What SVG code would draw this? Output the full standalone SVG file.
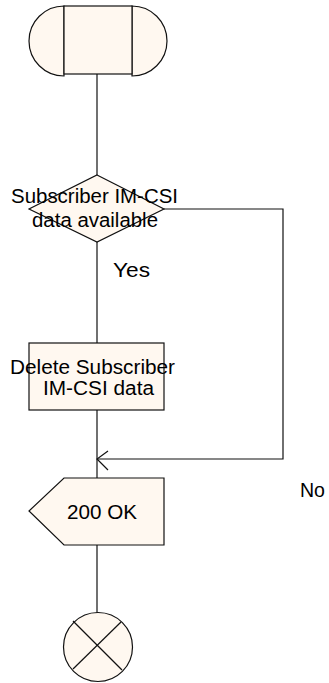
<svg xmlns="http://www.w3.org/2000/svg" width="329" height="683" viewBox="0 0 329 683">
<style>
.shape{fill:#fff8f0;stroke:#111;stroke-width:1.2}
.line{fill:none;stroke:#111;stroke-width:1.2}
text{font-family:"Liberation Sans",Arial,sans-serif;font-size:20px;fill:#000}
</style>
<rect width="329" height="683" fill="#fff"/>
<g id="connectors">
<line class="line" x1="97" y1="74" x2="97" y2="175"/>
<polyline class="line" points="164,209 283,209 283,459 97,459"/>
<polyline class="line" points="108,451 97,459 108,470"/>
<line class="line" x1="97" y1="242" x2="97" y2="343"/>
<line class="line" x1="97" y1="410" x2="97" y2="478"/>
<line class="line" x1="97" y1="545" x2="97" y2="613"/>
<text x="113" y="277" textLength="37" lengthAdjust="spacingAndGlyphs">Yes</text>
<text x="300" y="497" textLength="25" lengthAdjust="spacingAndGlyphs">No</text>
</g>
<g id="start">
<path class="shape" d="M64,6 A35,35 0 0 0 64,76 Z"/>
<path class="shape" d="M132,6 A35,35 0 0 1 132,76 Z"/>
<rect class="shape" x="64" y="6" width="68" height="68"/>
</g>
<g id="decision">
<polygon class="shape" points="97,175 164,209 97,242 29,209"/>
<text x="11" y="203" textLength="167" lengthAdjust="spacingAndGlyphs">Subscriber IM-CSI</text>
<text x="32" y="227" textLength="126" lengthAdjust="spacingAndGlyphs">data available</text>
</g>
<g id="task">
<rect class="shape" x="29" y="343" width="135" height="67"/>
<text x="10" y="374" textLength="165" lengthAdjust="spacingAndGlyphs">Delete Subscriber</text>
<text x="43" y="395" textLength="111" lengthAdjust="spacingAndGlyphs">IM-CSI data</text>
</g>
<g id="output">
<polygon class="shape" points="64,478 164,478 164,545 64,545 29,511"/>
<text x="67" y="519" textLength="70" lengthAdjust="spacingAndGlyphs">200 OK</text>
</g>
<g id="stop">
<circle class="shape" cx="98" cy="647" r="34.5"/>
<line class="line" x1="73" y1="621" x2="122" y2="670"/>
<line class="line" x1="121" y1="622" x2="73" y2="669"/>
</g>
</svg>
